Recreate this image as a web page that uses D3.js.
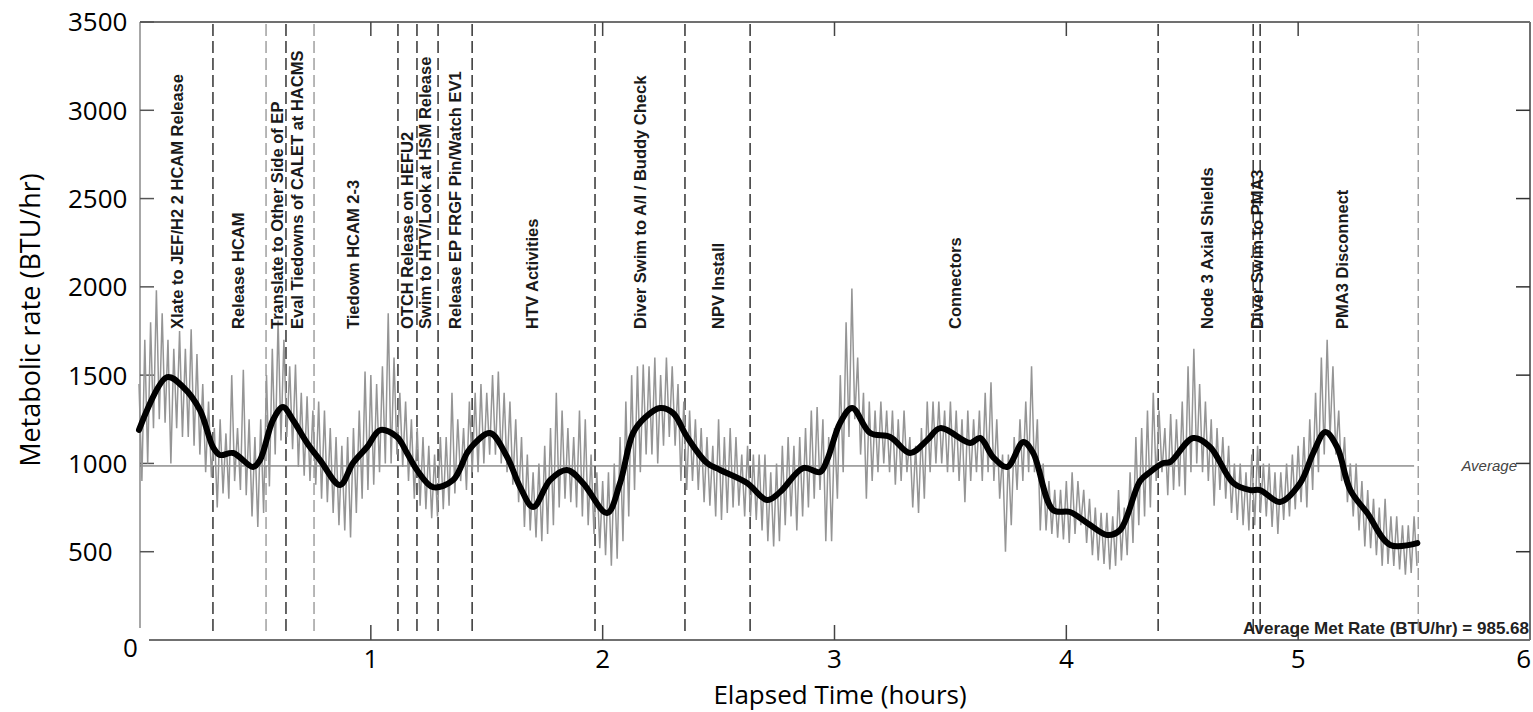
<!DOCTYPE html>
<html lang="en"><head>
<meta charset="utf-8">
<title>Metabolic rate during EVA</title>
<script type="text/javascript" src="https://cdn.jsdelivr.net/npm/d3@7/dist/d3.min.js"></script>
<style type="text/css">
body { margin: 0; background: #fff; }
</style>
</head>
<body>
<script type="text/javascript">

var width = 1533;
var height = 712;

// raw signal envelope, one bin every 0.025 h
var rawStep = 0.025;
var rawHi = [1450,1700,1800,1980,1850,1700,1650,1750,1650,1760,
    1620,1450,1350,1200,1250,1170,1500,1200,1530,1250,
    1150,1250,1500,1650,1810,1700,1550,1560,1400,1380,
    1300,1350,1300,1200,1150,1100,1150,1200,1300,1520,
    1500,1450,1550,1850,1600,1400,1350,1250,1200,1150,
    1100,1050,1150,1150,1400,1250,1200,1350,1400,1450,
    1400,1500,1520,1400,1350,1250,1150,1050,950,1000,
    1100,1200,1400,1300,1200,1150,1300,1250,1050,950,
    900,950,1000,1150,1350,1500,1550,1560,1550,1600,
    1500,1600,1550,1450,1350,1300,1250,1200,1150,1100,
    1250,1150,1200,1150,1050,1100,1050,1050,1050,950,
    1000,1100,1150,1100,1150,1200,1300,1320,1250,1150,
    1200,1500,1800,1990,1600,1400,1350,1300,1350,1300,
    1300,1250,1300,1150,1100,1200,1350,1350,1350,1300,
    1350,1300,1250,1300,1250,1300,1400,1460,1250,1050,
    1050,1150,1250,1350,1550,1250,1000,900,850,850,
    900,950,900,850,800,750,720,720,700,850,
    750,950,1150,1200,1300,1400,1300,1200,1280,1250,
    1350,1550,1650,1450,1350,1250,1200,1150,1100,1000,
    1000,950,1050,1100,1000,1000,950,950,1000,1050,
    1100,1150,1250,1400,1600,1700,1550,1300,1150,1000,
    1000,900,850,800,750,800,700,700,650,650,
    700];
var rawLo = [900,1000,1200,1250,1230,1000,1200,1150,1150,1100,
    1050,950,920,750,830,800,900,850,820,700,
    640,720,870,1050,1130,1150,1080,980,930,900,
    880,800,780,720,650,620,580,720,800,850,
    880,950,1000,1000,1050,980,900,800,760,740,
    690,700,740,760,830,900,850,950,950,1000,
    1050,1050,1000,950,880,780,640,620,580,560,
    600,650,750,800,780,750,700,650,600,520,
    480,420,460,560,700,850,950,1050,1050,1000,
    1100,1150,1100,900,850,900,850,780,760,700,
    680,720,750,760,700,700,680,620,560,530,
    560,650,700,620,700,750,800,850,560,560,
    800,950,1150,1250,1050,800,900,950,1000,950,
    880,900,950,750,720,800,950,1000,1000,950,
    950,900,780,900,950,900,950,900,800,500,
    650,850,900,950,950,620,620,600,580,570,
    550,600,650,550,480,450,430,400,420,450,
    480,550,650,700,750,900,950,820,850,870,
    820,950,1000,950,900,760,850,800,720,680,
    650,620,650,720,700,640,600,680,700,740,
    780,750,850,950,1050,1150,1050,900,780,700,
    620,530,520,480,420,430,420,400,370,380,
    420];

// smoothed curve, read at its turning points
var smoothT = [0.00,0.121,0.190,0.263,0.319,0.349,0.406,0.492,0.522,0.578,
    0.621,0.664,0.725,0.781,0.867,0.923,0.984,1.040,1.113,1.156,
    1.199,1.268,1.355,1.415,1.441,1.514,1.588,1.644,1.700,1.773,
    1.846,1.915,2.019,2.075,2.131,2.183,2.247,2.304,2.364,2.450,
    2.507,2.623,2.709,2.765,2.865,2.938,2.968,3.024,3.076,3.154,
    3.240,3.326,3.400,3.456,3.585,3.628,3.684,3.745,3.814,3.857,
    3.943,4.016,4.090,4.176,4.232,4.318,4.361,4.418,4.448,4.547,
    4.620,4.720,4.793,4.836,4.922,5.009,5.065,5.117,5.168,5.225,
    5.298,5.397,5.514];
var smoothV = [1190,1489,1433,1302,1093,1048,1059,980,1019,1246,
    1319,1246,1116,1019,878,1002,1093,1189,1150,1059,
    963,866,906,1059,1104,1172,1036,866,753,906,
    963,889,719,889,1172,1260,1314,1285,1150,1002,
    963,889,793,838,974,951,1019,1229,1314,1172,
    1150,1059,1133,1200,1116,1144,1036,980,1121,1059,
    736,725,663,595,623,900,951,1002,1008,1144,
    1093,889,849,849,782,889,1059,1178,1093,849,
    719,538,549];

var averageRate = 985.68;

// event markers (hours)
var eventT = [0.319,0.548,0.634,0.755,1.117,1.199,1.290,1.437,1.967,2.355,2.636,4.396,4.806,4.836,5.518];
var lightEvents = [1, 3, 14];

var labelT = [0.164,0.427,0.595,0.682,0.923,1.156,1.234,1.363,1.695,2.161,2.498,3.520,4.607,4.823,5.190];
var labelText = ["Xlate to JEF/H2 2 HCAM Release","Release HCAM","Translate to Other Side of EP",
    "Eval Tiedowns of CALET at HACMS","Tiedown HCAM 2-3","OTCH Release on HEFU2",
    "Swim to HTV/Look at HSM Release","Release EP FRGF Pin/Watch EV1","HTV Activities",
    "Diver Swim to A/I / Buddy Check","NPV Install","Connectors","Node 3 Axial Shields",
    "Diver Swim to PMA3","PMA3 Disconnect"];

var yTicks = [0,500,1000,1500,2000,2500,3000,3500];
var xTicks = [1,2,3,4,5,6];

var svg = d3.select("body").append("svg").attr("width",width).attr("height",height);

var x = d3.scaleLinear().domain([0,6]).range([139,1530]);
var y = d3.scaleLinear().domain([0,3500]).range([640,22]);

// frame
var frame = "#707070";
svg.append("line").attr("x1",140).attr("x2",140).attr("y1",y(3500)).attr("y2",628).attr("stroke","#8a8a8a").attr("stroke-width",1.5);
svg.append("line").attr("x1",140).attr("x2",x(6)).attr("y1",y(3500)).attr("y2",y(3500)).attr("stroke",frame).attr("stroke-width",2);
svg.append("line").attr("x1",x(6)).attr("x2",x(6)).attr("y1",y(3500)).attr("y2",y(0)).attr("stroke",frame).attr("stroke-width",2);
svg.append("line").attr("x1",149).attr("x2",x(6)).attr("y1",y(0)).attr("y2",y(0)).attr("stroke",frame).attr("stroke-width",2);

svg.selectAll(".ltick").data(yTicks.slice(1)).enter().append("line").attr("class","ltick")
    .attr("x1",140).attr("x2",154).attr("y1",d=>y(d)).attr("y2",d=>y(d)).attr("stroke","#555").attr("stroke-width",1.5);
svg.selectAll(".rtick").data(yTicks.slice(1,7)).enter().append("line").attr("class","rtick")
    .attr("x1",x(6)-14).attr("x2",x(6)).attr("y1",d=>y(d)).attr("y2",d=>y(d)).attr("stroke","#333").attr("stroke-width",1.5);
svg.selectAll(".btick").data(xTicks.slice(0,5)).enter().append("line").attr("class","btick")
    .attr("x1",d=>x(d)).attr("x2",d=>x(d)).attr("y1",y(0)-15).attr("y2",y(0)).attr("stroke","#444").attr("stroke-width",1.5);
svg.selectAll(".ttick").data(xTicks.slice(0,5)).enter().append("line").attr("class","ttick")
    .attr("x1",d=>x(d)).attr("x2",d=>x(d)).attr("y1",y(3500)).attr("y2",y(3500)+14).attr("stroke","#444").attr("stroke-width",1.5);

// event dashed lines
svg.selectAll(".evt").data(eventT).enter().append("line").attr("class","evt")
    .attr("x1",d=>x(d)).attr("x2",d=>x(d)).attr("y1",y(3500)+2).attr("y2",y(0)-4)
    .attr("stroke",(d,i)=>lightEvents.indexOf(i)>=0?"#a0a0a0":"#333")
    .attr("stroke-width",1.5).attr("stroke-dasharray","12,5");

// average line
svg.append("line").attr("x1",140).attr("x2",x(rawHi.length*rawStep-rawStep)).attr("y1",y(averageRate)).attr("y2",y(averageRate))
    .attr("stroke","#555").attr("stroke-width",1);

// raw signal as a zigzag between envelope values
var rawPts = [];
rawHi.forEach(function(h,i){
    rawPts.push([i*rawStep,h]);
    rawPts.push([i*rawStep+rawStep/2,rawLo[i]]);
});
svg.append("path").datum(rawPts).attr("fill","none").attr("stroke","#959595").attr("stroke-width",1.5)
    .attr("d",d3.line().x(d=>x(d[0])).y(d=>y(d[1])));

// smoothed curve
var smooth = smoothT.map((t,i)=>[t,smoothV[i]]);
svg.append("path").datum(smooth).attr("fill","none").attr("stroke","#000").attr("stroke-width",6)
    .attr("stroke-linejoin","round").attr("stroke-linecap","round")
    .attr("d",d3.line().curve(d3.curveCatmullRom.alpha(0.5)).x(d=>x(d[0])).y(d=>y(d[1])));

// event labels
svg.selectAll(".lbl").data(labelText).enter().append("text").attr("class","lbl")
    .attr("transform",(d,i)=>"translate("+x(labelT[i])+",329) rotate(-90)")
    .attr("dy","0.35em").attr("text-anchor","start")
    .attr("font-family","Liberation Sans, Arial, sans-serif").attr("font-weight","bold").attr("font-size","16.5px").attr("fill","#1a1a1a")
    .text(d=>d);

svg.append("text").attr("x",1517).attr("y",y(averageRate)).attr("dy","0.35em").attr("text-anchor","end")
    .attr("font-family","Liberation Sans, Arial, sans-serif").attr("font-style","italic").attr("font-size","15px").attr("fill","#444")
    .text("Average");
svg.append("text").attr("x",x(6)-1).attr("y",634).attr("text-anchor","end")
    .attr("font-family","Liberation Sans, Arial, sans-serif").attr("font-weight","bold").attr("font-size","17px").attr("fill","#222")
    .text("Average Met Rate (BTU/hr) = " + averageRate);

// tick labels and titles
svg.selectAll(".ylab").data(yTicks).enter().append("text").attr("class","ylab")
    .attr("x",d=>d==0?123:68).attr("y",d=>d==0?y(d)+8:y(d)).attr("dy","0.36em")
    .attr("font-family","Open Sans, sans-serif").attr("font-size","26px").attr("fill","#000")
    .text(d=>d);
svg.selectAll(".xlab").data(xTicks).enter().append("text").attr("class","xlab")
    .attr("x",d=>d==6?x(d)+1:x(d)).attr("y",659).attr("dy","0.36em")
    .attr("text-anchor",d=>d==6?"end":"middle")
    .attr("font-family","Open Sans, sans-serif").attr("font-size","26px").attr("fill","#000")
    .text(d=>d);

svg.append("text").attr("transform","translate(30,320) rotate(-90)").attr("dy","0.36em").attr("text-anchor","middle")
    .attr("font-family","Open Sans, sans-serif").attr("font-size","27px").attr("fill","#000")
    .text("Metabolic rate (BTU/hr)");
svg.append("text").attr("x",840).attr("y",695).attr("dy","0.36em").attr("text-anchor","middle")
    .attr("font-family","Open Sans, sans-serif").attr("font-size","26px").attr("fill","#000")
    .text("Elapsed Time (hours)");

</script>
</body>
</html>
